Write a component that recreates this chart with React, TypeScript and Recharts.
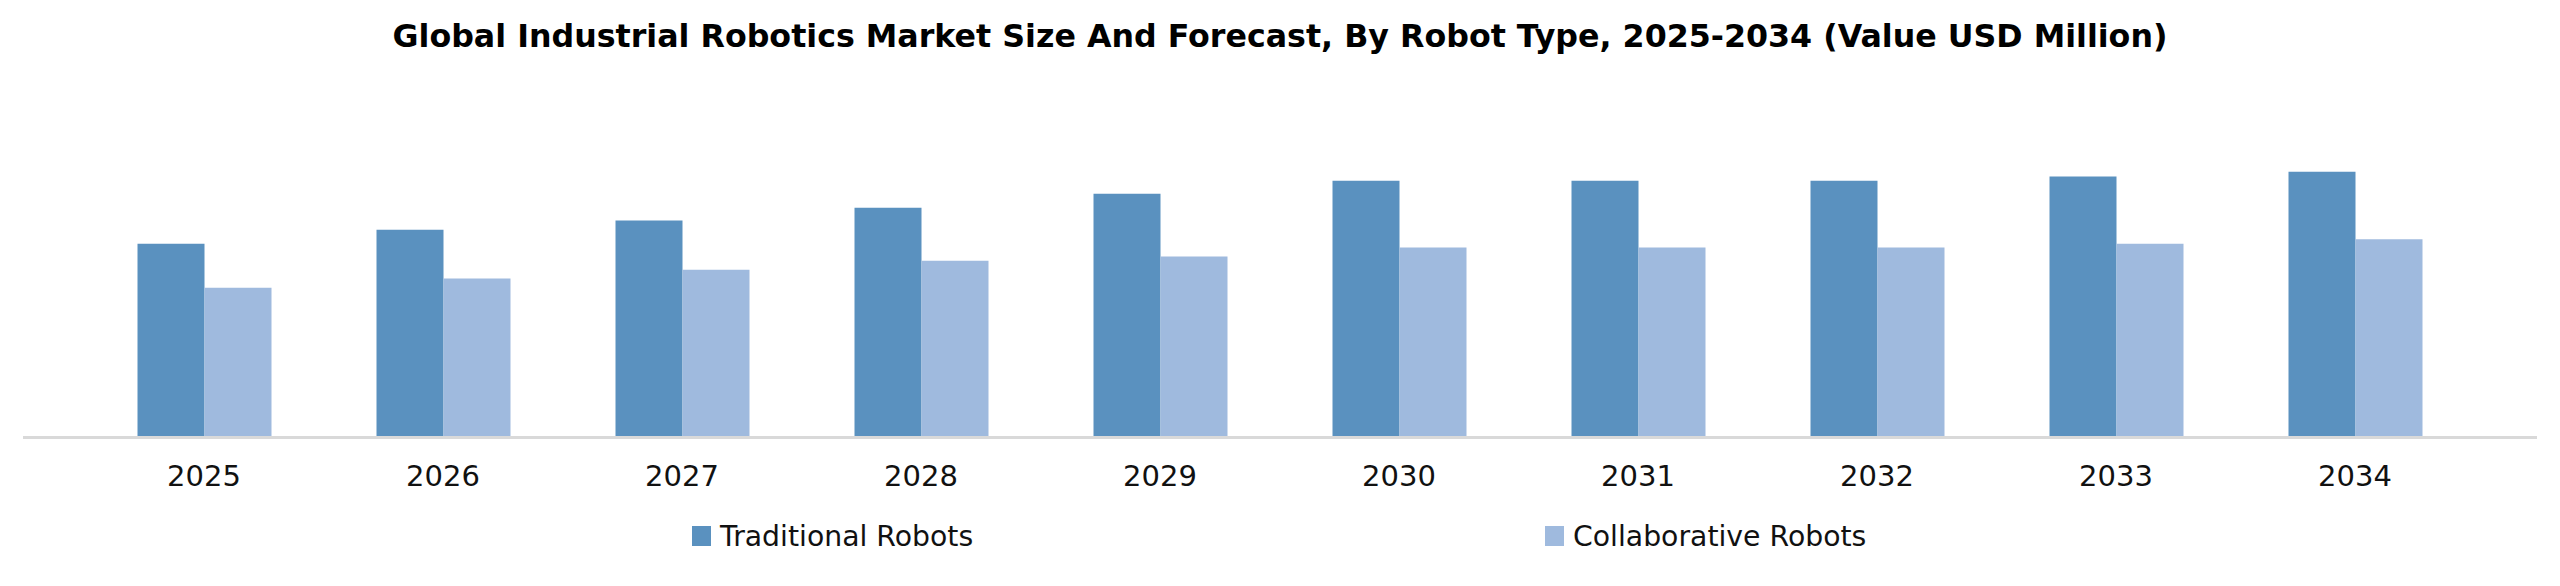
import { BarChart, Bar, XAxis, YAxis } from "recharts";

const years = ["2025", "2026", "2027", "2028", "2029", "2030", "2031", "2032", "2033", "2034"];
const traditional = [193.7, 207.7, 217.0, 229.7, 243.7, 256.7, 256.7, 256.7, 261.0, 265.7];
const collaborative = [149.7, 159.0, 167.7, 176.7, 181.0, 190.0, 190.0, 190.0, 193.7, 198.3];

const seriesNames = ["Traditional Robots", "Collaborative Robots"];
const colors = ["#5a91bf", "#9fbade"];

const data = years.map((year, i) => ({
  year,
  traditional: traditional[i],
  collaborative: collaborative[i],
}));

const font = "'DejaVu Sans', Verdana, sans-serif";

// legend drawn in html so it doesn't eat into the plot height
const LegendRow = () => (
  <div style={{ position: "absolute", top: 518, left: 0, width: 2560, height: 36 }}>
    {seriesNames.map((name, i) => (
      <div
        key={name}
        style={{
          position: "absolute",
          left: i === 0 ? 692 : 1545,
          top: 0,
          display: "flex",
          alignItems: "center",
          height: 36,
          fontSize: 28.3,
          color: "#111",
        }}
      >
        <span style={{ width: 19, height: 20, background: colors[i], marginRight: 9 }} />
        {name}
      </div>
    ))}
  </div>
);

export default function App() {
  return (
    <div
      style={{
        position: "absolute",
        top: 0,
        left: 0,
        width: 2560,
        height: 586,
        background: "#fff",
        fontFamily: font,
      }}
    >
      <div
        style={{
          position: "absolute",
          top: 0,
          left: 0,
          width: 2560,
          height: 72,
          lineHeight: "72px",
          textAlign: "center",
          fontSize: 31.7,
          fontWeight: "bold",
          color: "#000",
        }}
      >
        Global Industrial Robotics Market Size And Forecast, By Robot Type, 2025-2034 (Value USD Million)
      </div>

      <BarChart
        width={2560}
        height={586}
        data={data}
        margin={{ top: 137.5, right: 23, bottom: 88.5, left: 23 }}
        barGap={0}
        barSize={67}
      >
        <XAxis
          dataKey="year"
          height={60}
          padding={{ left: 61.5, right: 62.5 }}
          axisLine={{ stroke: "#d9d9d9", strokeWidth: 3 }}
          tickLine={false}
          tickSize={0}
          tickMargin={28}
          tick={{ fontSize: 29, fill: "#111", fontFamily: font }}
        />
        <YAxis hide domain={[0, 300]} />
        <Bar dataKey="traditional" name={seriesNames[0]} fill={colors[0]} isAnimationActive={false} />
        <Bar dataKey="collaborative" name={seriesNames[1]} fill={colors[1]} isAnimationActive={false} />
      </BarChart>

      <LegendRow />
    </div>
  );
}
